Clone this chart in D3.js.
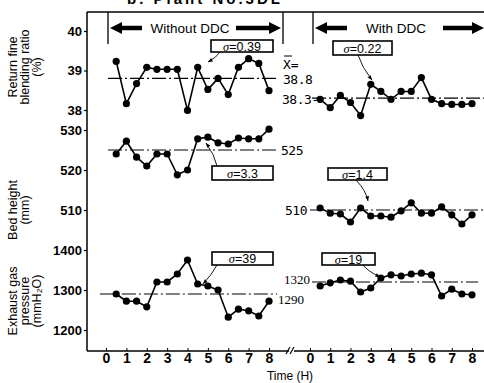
<!DOCTYPE html>
<html>
<head>
<meta charset="utf-8">
<script src="https://cdn.jsdelivr.net/npm/d3@7"></script>
<style>
  body { margin: 0; background: #fff; }
  svg { display: block; font-family: "Liberation Sans", Arial, sans-serif; }
</style>
</head>
<body>
<div id="chart"></div>
<script>
// hours of each sample (every half hour)
var hours = [0.5, 1, 1.5, 2, 2.5, 3, 3.5, 4, 4.5, 5, 5.5, 6, 6.5, 7, 7.5, 8];
var hourTicks = [0, 1, 2, 3, 4, 5, 6, 7, 8];

// return fine blending ratio (%)
var ratioWithout = [39.23, 38.16, 38.67, 39.08, 39.03, 39.03, 39.03, 37.99, 39.08, 38.52, 38.80, 38.39, 39.08, 39.30, 39.18, 38.49];
var ratioWith = [38.27, 38.06, 38.37, 38.19, 37.86, 38.65, 38.47, 38.27, 38.47, 38.47, 38.82, 38.27, 38.16, 38.14, 38.14, 38.16];
// bed height (mm)
var bedWithout = [524, 527.2, 523.2, 521, 524, 524, 518.8, 520, 527.8, 528.2, 526.8, 526.5, 528, 527.8, 527.8, 530.2];
var bedWith = [510.5, 509.2, 509, 507, 510.5, 508.5, 508.5, 508.2, 509.8, 511.8, 509.2, 509.2, 510.8, 508.8, 506.5, 508.8];
// exhaust gas pressure (mmH2O)
var gasWithout = [1290, 1272, 1272, 1258, 1320, 1320, 1340, 1375, 1315, 1310, 1300, 1232, 1252, 1248, 1235, 1272];
var gasWith = [1310, 1318, 1325, 1322, 1295, 1305, 1330, 1338, 1335, 1340, 1342, 1338, 1285, 1302, 1290, 1288];

// means and sigmas [without, with]
var ratioMean = [38.8, 38.3], ratioSigma = ["0.39", "0.22"];
var bedMean = [525, 510], bedSigma = ["3.3", "1.4"];
var gasMean = [1290, 1320], gasSigma = ["39", "19"];

var ratioTicks = [38, 39, 40];
var bedTicks = [510, 520, 530];
var gasTicks = [1200, 1300, 1400];

var width = 484, height = 383;
var svg = d3.select("#chart").append("svg")
  .attr("width", width).attr("height", height);

// scales
var xLeft = d3.scaleLinear().domain([0, 8]).range([106, 269]);
var xRight = d3.scaleLinear().domain([0, 8]).range([310, 472]);
var yRatio = d3.scaleLinear().domain([38, 40]).range([110, 31]);
var yBed = d3.scaleLinear().domain([510, 530]).range([210, 130]);
var yGas = d3.scaleLinear().domain([1200, 1400]).range([330, 250]);

var axisX = 87, topY = 12, baseY = 351;

// title, cut off at the very top in the original scan
svg.append("text")
  .attr("x", 205).attr("y", 4)
  .attr("text-anchor", "middle")
  .style("font-size", "15px").style("font-weight", "bold")
  .style("letter-spacing", "3px")
  .text("b. Plant No.3DL");

// frame
svg.append("line").attr("x1", axisX).attr("y1", topY).attr("x2", width).attr("y2", topY)
  .attr("stroke", "#000").attr("stroke-width", 1.5);
svg.append("line").attr("x1", axisX).attr("y1", topY).attr("x2", axisX).attr("y2", baseY)
  .attr("stroke", "#000").attr("stroke-width", 1.5);
svg.append("line").attr("x1", axisX).attr("y1", baseY).attr("x2", 289).attr("y2", baseY)
  .attr("stroke", "#000").attr("stroke-width", 1.5);
svg.append("line").attr("x1", 294).attr("y1", baseY).attr("x2", width).attr("y2", baseY)
  .attr("stroke", "#000").attr("stroke-width", 1.5);
// break marks
[288, 292].forEach(function(bx) {
  svg.append("line").attr("x1", bx - 2).attr("y1", baseY + 3).attr("x2", bx + 2).attr("y2", baseY - 4)
    .attr("stroke", "#000").attr("stroke-width", 1.2);
});

// y axes
function yAxis(scale, ticks) {
  var g = svg.append("g").attr("transform", "translate(" + axisX + ",0)")
    .call(d3.axisLeft(scale).tickValues(ticks).tickSize(3).tickPadding(2).tickFormat(d3.format("d")));
  g.select(".domain").remove();
  g.selectAll("text").style("font-size", "13px").style("font-weight", "bold").attr("fill", "#000");
  g.selectAll("line").attr("stroke-width", 1.2);
}
yAxis(yRatio, ratioTicks);
yAxis(yBed, bedTicks);
yAxis(yGas, gasTicks);

// x axes
function xAxis(scale) {
  var g = svg.append("g").attr("transform", "translate(0," + baseY + ")")
    .call(d3.axisBottom(scale).tickValues(hourTicks).tickSize(-3).tickPadding(2));
  g.select(".domain").remove();
  g.selectAll("text").style("font-size", "14px").style("font-weight", "bold").attr("fill", "#000");
}
xAxis(xLeft);
xAxis(xRight);

svg.append("text").attr("x", 290).attr("y", 380)
  .attr("text-anchor", "middle").style("font-size", "12px").text("Time (H)");

// y labels
function yLabel(lines, cy) {
  lines.forEach(function(t, i) {
    svg.append("text")
      .attr("transform", "translate(" + (13 + i * 12) + "," + cy + ") rotate(-90)")
      .attr("text-anchor", "middle").attr("dominant-baseline", "central")
      .style("font-size", "12.5px").text(t);
  });
}
yLabel(["Return fine", "blending ratio", "(%)"], 67);
yLabel(["Bed height", "(mm)"], 210);
yLabel(["Exhaust gas", "pressure", "(mmH\u2082O)"], 301);

// header: separators and bold arrows
[108, 283, 313].forEach(function(vx) {
  svg.append("line").attr("x1", vx).attr("y1", topY).attr("x2", vx).attr("y2", 44)
    .attr("stroke", "#000").attr("stroke-width", 1.3);
});
function drawArrow(tail, tip, cy) {
  var d = tip > tail ? 1 : -1;
  var neck = tip - d * 12;
  var pts = [[tail, cy - 2.3], [neck, cy - 2.3], [neck, cy - 6], [tip, cy],
             [neck, cy + 6], [neck, cy + 2.3], [tail, cy + 2.3]];
  svg.append("polygon")
    .attr("points", pts.map(function(p) { return p.join(","); }).join(" "))
    .attr("fill", "#000").attr("stroke", "none");
}
drawArrow(142, 110, 28);
drawArrow(236, 281, 28);
svg.append("text").attr("x", 190).attr("y", 33).attr("text-anchor", "middle")
  .style("font-size", "13.5px").text("Without DDC");
drawArrow(347, 315, 28);
drawArrow(443, 484, 28);
svg.append("text").attr("x", 396).attr("y", 33).attr("text-anchor", "middle")
  .style("font-size", "13.5px").text("With DDC");

// series
function series(xs, vals, y) {
  var line = d3.line().x(function(d, i) { return xs(hours[i]); }).y(function(d) { return y(d); });
  svg.append("path").datum(vals).attr("d", line)
    .attr("fill", "none").attr("stroke", "#000").attr("stroke-width", 1.6);
  svg.append("g").selectAll("circle").data(vals).enter().append("circle")
    .attr("cx", function(d, i) { return xs(hours[i]); })
    .attr("cy", function(d) { return y(d); })
    .attr("r", 3.6).attr("fill", "#000");
}
function meanLine(xs, h1, h2, y, v) {
  svg.append("line").attr("x1", xs(h1)).attr("x2", xs(h2))
    .attr("y1", y(v)).attr("y2", y(v))
    .attr("stroke", "#000").attr("stroke-width", 1.2)
    .attr("stroke-dasharray", "14,3,2,3");
}

meanLine(xLeft, 0.1, 8.4, yRatio, ratioMean[0]);
meanLine(xRight, 0.1, 8.6, yRatio, ratioMean[1]);
meanLine(xLeft, 0.1, 8.4, yBed, bedMean[0]);
meanLine(xRight, 0.0, 8.6, yBed, bedMean[1]);
meanLine(xLeft, -0.3, 8.4, yGas, gasMean[0]);
meanLine(xRight, 0.1, 8.3, yGas, gasMean[1]);

series(xLeft, ratioWithout, yRatio);
series(xRight, ratioWith, yRatio);
series(xLeft, bedWithout, yBed);
series(xRight, bedWith, yBed);
series(xLeft, gasWithout, yGas);
series(xRight, gasWith, yGas);

// mean labels
function meanText(x, y, t, serif) {
  svg.append("text").attr("x", x).attr("y", y).attr("dominant-baseline", "central")
    .style("font-size", "13px")
    .style("font-family", serif ? "'Liberation Serif', serif" : "'DejaVu Sans Mono', monospace")
    .style("letter-spacing", serif ? "0px" : "-0.5px")
    .text(t);
}
svg.append("text").attr("x", 283).attr("y", 64).attr("dominant-baseline", "central")
  .style("font-size", "13px").style("font-family", "'DejaVu Sans Mono', monospace").text("X=");
svg.append("line").attr("x1", 284).attr("x2", 292).attr("y1", 56).attr("y2", 56)
  .attr("stroke", "#000").attr("stroke-width", 1);
meanText(283, yRatio(ratioMean[0]) + 1, ratioMean[0].toFixed(1), false);
meanText(282, yRatio(ratioMean[1]) + 1, ratioMean[1].toFixed(1) + "-", false);
meanText(281, yBed(bedMean[0]), String(bedMean[0]), false);
meanText(285, yBed(bedMean[1]), String(bedMean[1]), false);
meanText(278, yGas(gasMean[0]) + 5, String(gasMean[0]), true);
meanText(284, yGas(gasMean[1]) - 3, String(gasMean[1]), true);

// sigma boxes with leaders
function sigmaBox(x, y, w, h, val, lx1, ly1, lx2, ly2, bend) {
  svg.append("rect").attr("x", x).attr("y", y).attr("width", w).attr("height", h)
    .attr("fill", "#fff").attr("stroke", "#000").attr("stroke-width", 1.6);
  var t = svg.append("text").attr("x", x + w / 2).attr("y", y + h / 2 + 0.5)
    .attr("text-anchor", "middle").attr("dominant-baseline", "central")
    .style("font-size", "12.5px");
  t.append("tspan").style("font-style", "italic").style("font-family", "'Liberation Serif', serif").text("\u03c3");
  t.append("tspan").text("=" + val);
  var mx = (lx1 + lx2) / 2 + bend, my = (ly1 + ly2) / 2;
  svg.append("path").attr("d", "M" + lx1 + "," + ly1 + "Q" + mx + "," + my + " " + lx2 + "," + ly2)
    .attr("fill", "none").attr("stroke", "#000").attr("stroke-width", 0.9);
  var ang = Math.atan2(ly2 - my, lx2 - mx);
  svg.append("path")
    .attr("d", "M" + lx2 + "," + ly2 +
      "L" + (lx2 - 5 * Math.cos(ang - 0.4)) + "," + (ly2 - 5 * Math.sin(ang - 0.4)) +
      "L" + (lx2 - 5 * Math.cos(ang + 0.4)) + "," + (ly2 - 5 * Math.sin(ang + 0.4)) + "Z")
    .attr("fill", "#000");
}
sigmaBox(211, 40, 62, 12, ratioSigma[0], 220, 52, 208, 62, 3);
sigmaBox(333, 41, 59, 14, ratioSigma[1], 358, 55, 372, 80, -3);
sigmaBox(212, 166, 61, 14, bedSigma[0], 217, 166, 206, 143, 3);
sigmaBox(328, 168, 59, 12, bedSigma[1], 356, 180, 368, 201, 4);
sigmaBox(212, 252, 61, 13, gasSigma[0], 217, 265, 203, 284, 2);
sigmaBox(322, 253, 53, 12, gasSigma[1], 363, 265, 380, 277, -4);
</script>
</body>
</html>
